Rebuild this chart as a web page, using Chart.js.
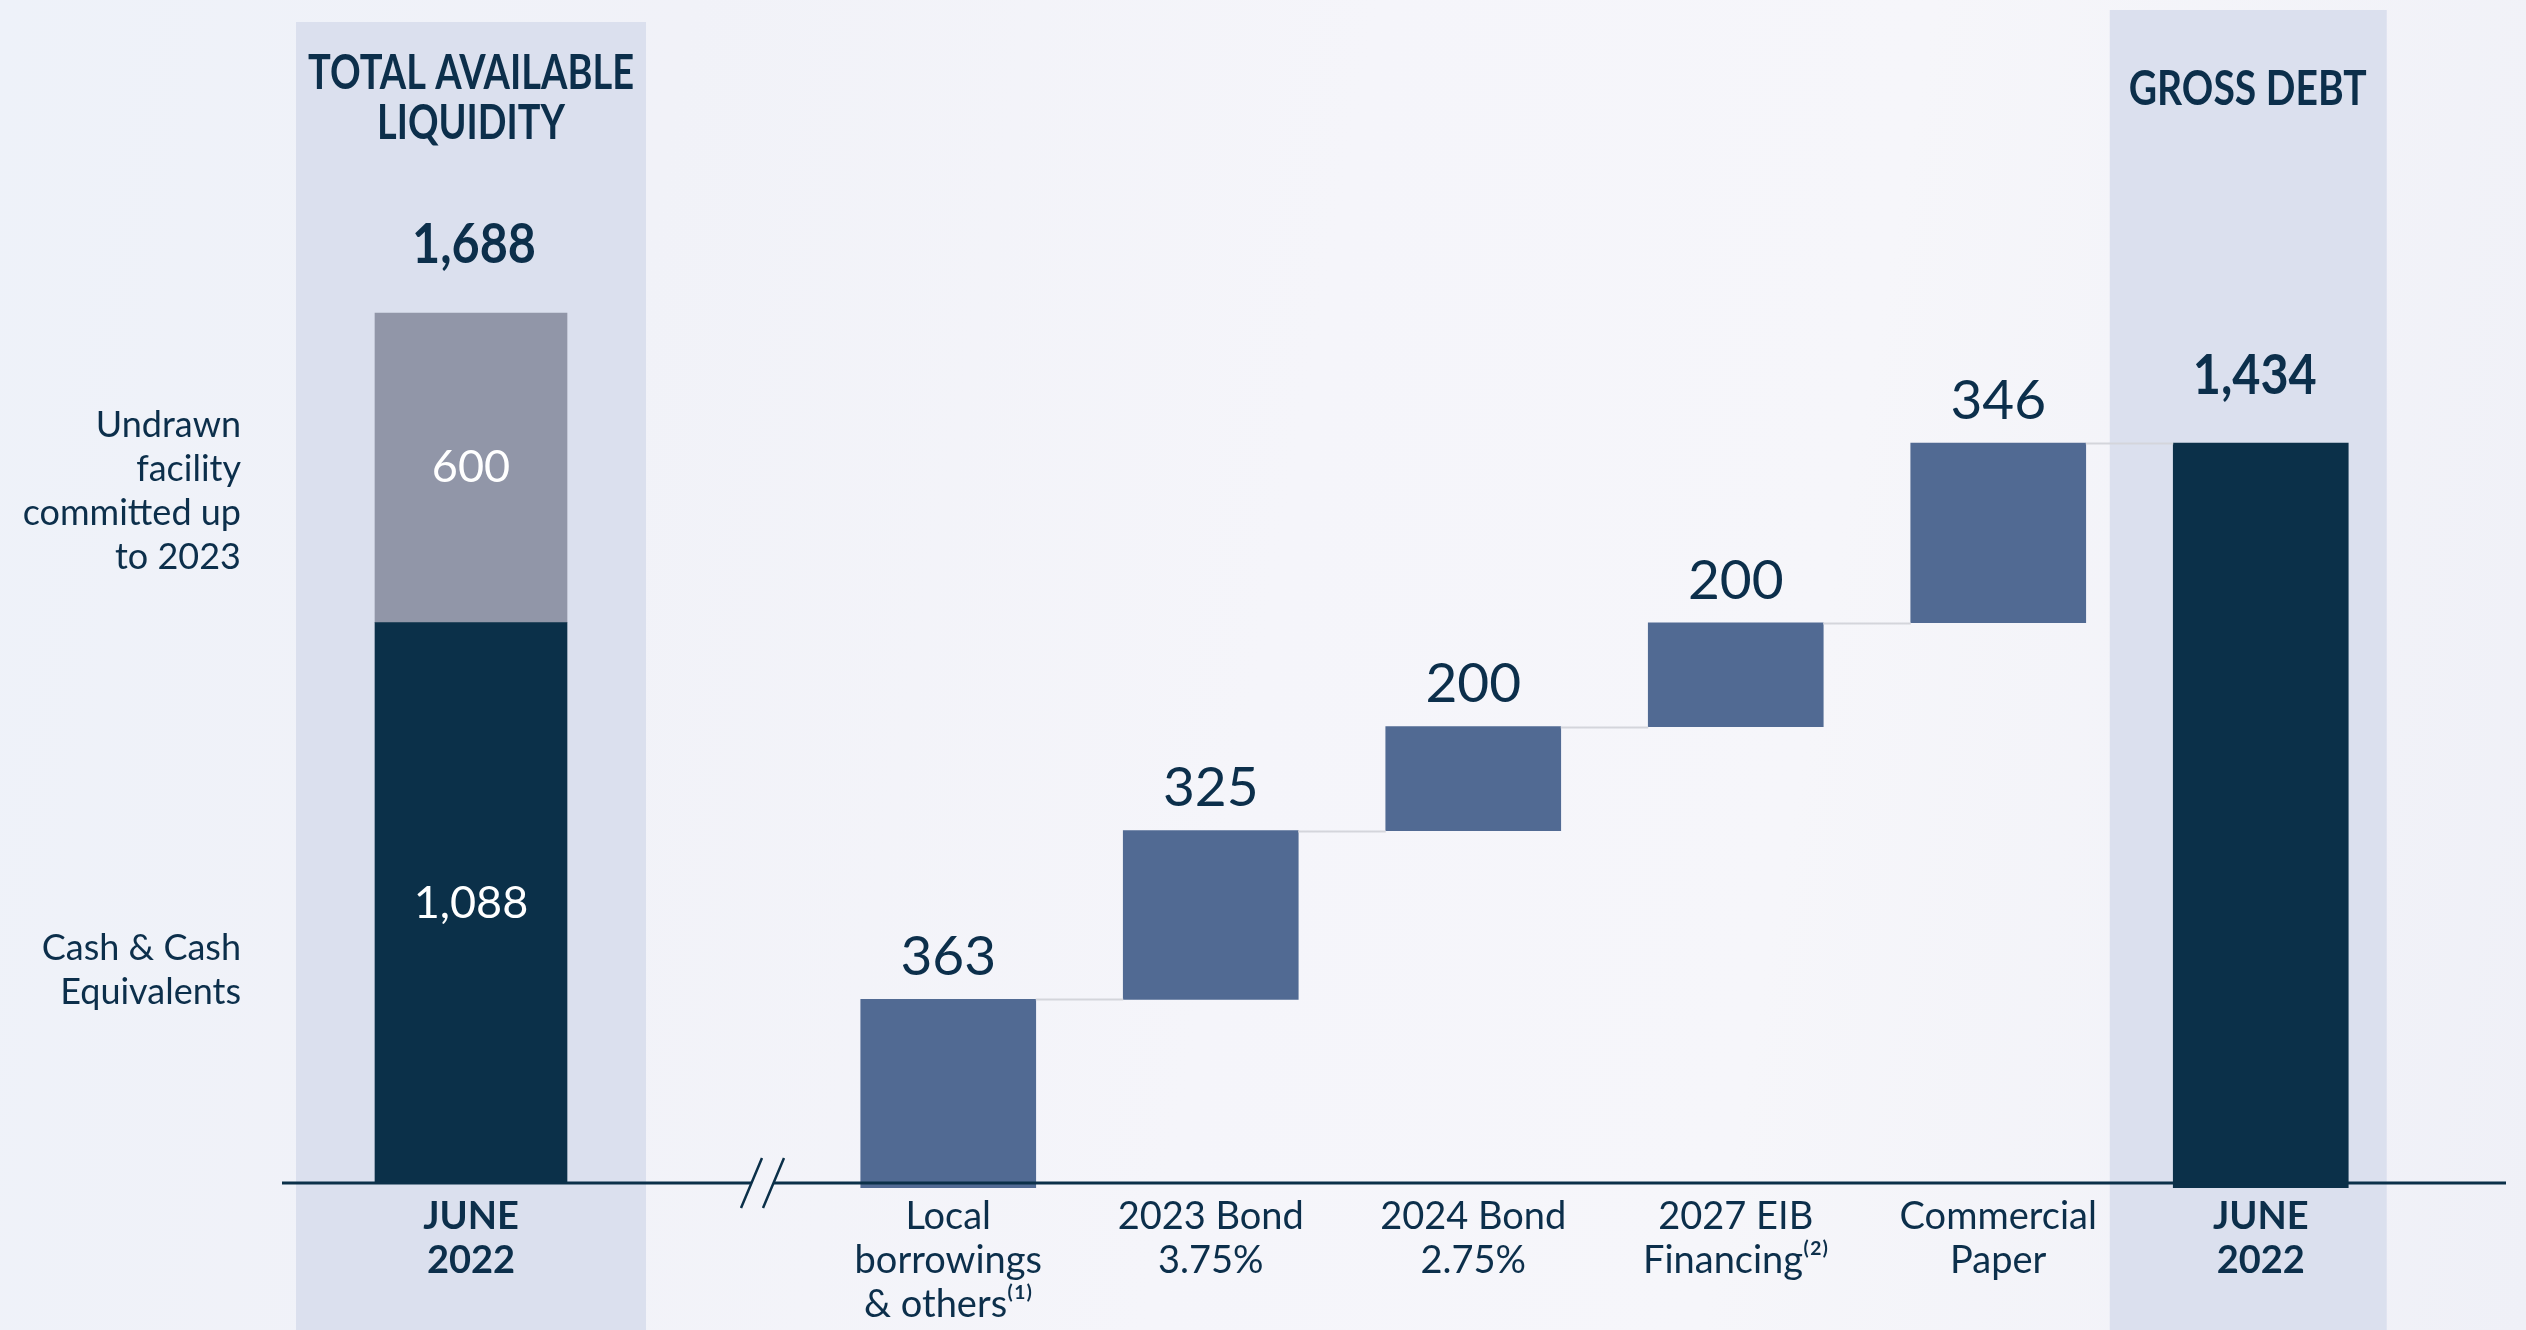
<!DOCTYPE html>
<html>
<head>
<meta charset="utf-8">
<script src="https://cdn.jsdelivr.net/npm/chart.js@4.4.1/dist/chart.umd.min.js"></script>
<style>
  html, body { margin: 0; padding: 0; width: 2526px; height: 1330px; overflow: hidden; }
  body { background: linear-gradient(100deg, #eef2f9 0%, #f1f2f8 25%, #f5f5fa 50%, #f6f6fa 70%, #eff0f7 100%); }
  #wrapB { position: absolute; left: 0; top: 0; width: 700px; height: 1330px; z-index: 0; }
  #wrapA { position: absolute; left: 0; top: 0; width: 2526px; height: 1330px; z-index: 1; }
  canvas { display: block; }
</style>
</head>
<body>
<div id="wrapB"><canvas id="liq" width="700" height="1330"></canvas></div>
<div id="wrapA"><canvas id="debt" width="2526" height="1330"></canvas></div>
<script>
// ---------------- DATA ----------------
const liquidityCategories = [["JUNE", "2022"]];
const liquiditySeriesNames = ["Cash & Cash Equivalents", "Undrawn facility committed up to 2023"];
const cashValues = [1088];
const undrawnValues = [600];
const liquidityTotal = [1688];
const liquiditySideLabels = [["Cash & Cash", "Equivalents"], ["Undrawn", "facility", "committed up", "to 2023"]];

const debtCategories = [
  ["Local", "borrowings", "& others\u207D\u00B9\u207E"],
  ["2023 Bond", "3.75%"],
  ["2024 Bond", "2.75%"],
  ["2027 EIB", "Financing\u207D\u00B2\u207E"],
  ["Commercial", "Paper"],
  ["JUNE", "2022"]
];
const debtIncrements = [363, 325, 200, 200, 346];
const grossDebtTotal = [1434];

const titleLiquidity = ["TOTAL AVAILABLE", "LIQUIDITY"];
const titleDebt = ["GROSS DEBT"];

// ---------------- STYLE ----------------
const NAVY = '#0b3049';
const TEXT = '#0c2f4b';
const BLUE = '#516a93';
const GREY = '#9196a8';
const BAND = '#dbe0ee';
const CONNECT = '#d4d5db';
const FONT = 'Lato, "Open Sans", sans-serif';
const Y_MAX = 2000;

function fmt(v) { return v.toLocaleString('en-US'); }

// floating ranges for waterfall built from the increments
const waterfall = [];
let run = 0;
debtIncrements.forEach(v => { waterfall.push([run, run + v]); run += v; });
waterfall.push([0, grossDebtTotal[0]]);
const waterfallColors = debtIncrements.map(() => BLUE).concat([NAVY]);
const waterfallLabels = debtIncrements.map(fmt).concat([fmt(grossDebtTotal[0])]);

const AXIS_Y = 1183;

// ---------------- LIQUIDITY CHART ----------------
const liqPlugin = {
  id: 'liqDecor',
  beforeDraw(chart) {
    const { ctx, chartArea } = chart;
    ctx.save();
    ctx.fillStyle = BAND;
    ctx.fillRect(chartArea.left, 22, chartArea.right - chartArea.left, chart.height - 22);
    ctx.restore();
  },
  afterDatasetsDraw(chart) {
    const { ctx, chartArea } = chart;
    const cx = (chartArea.left + chartArea.right) / 2;
    const cash = chart.getDatasetMeta(0).data[0];
    const und = chart.getDatasetMeta(1).data[0];
    ctx.save();
    ctx.textAlign = 'center';
    ctx.textBaseline = 'middle';
    ctx.fillStyle = TEXT;
    ctx.font = 'bold 47px ' + FONT;
    ctx.fillText(titleLiquidity[0], cx, 74, 326);
    ctx.fillText(titleLiquidity[1], cx, 124, 188);
    ctx.font = 'bold 56px ' + FONT;
    ctx.fillText(fmt(liquidityTotal[0]), cx + 3, und.y - 68, 124);
    ctx.fillStyle = '#ffffff';
    ctx.font = '45px ' + FONT;
    const undMid = (und.y + und.base) / 2;
    const cashMid = (cash.y + cash.base) / 2;
    ctx.fillText(fmt(undrawnValues[0]), und.x, undMid);
    ctx.fillText(fmt(cashValues[0]), cash.x, cashMid);
    ctx.fillStyle = TEXT;
    ctx.textAlign = 'right';
    ctx.font = '36px ' + FONT;
    const lh = 44;
    liquiditySideLabels[1].forEach((t, i) => ctx.fillText(t, 241, undMid - 42 + i * lh));
    liquiditySideLabels[0].forEach((t, i) => ctx.fillText(t, 241, cashMid + 45 + i * lh));
    ctx.restore();
  }
};

new Chart(document.getElementById('liq'), {
  type: 'bar',
  data: {
    labels: liquidityCategories,
    datasets: [
      { label: liquiditySeriesNames[0], data: cashValues, backgroundColor: NAVY, barThickness: 192, borderWidth: 0 },
      { label: liquiditySeriesNames[1], data: undrawnValues, backgroundColor: GREY, barThickness: 192, borderWidth: 0 }
    ]
  },
  options: {
    responsive: false,
    animation: false,
    layout: { padding: { left: 296, right: 54, top: 152, bottom: 0 } },
    plugins: { legend: { display: false }, tooltip: { enabled: false } },
    scales: {
      x: {
        stacked: true,
        grid: { display: false, drawTicks: false },
        border: { display: false },
        ticks: { padding: 11, color: TEXT, font: { family: FONT, size: 38, weight: 'bold', lineHeight: 1.15 } },
        afterFit(s) { s.height = 146; }
      },
      y: { stacked: true, display: false, min: 0, max: Y_MAX }
    }
  },
  plugins: [liqPlugin]
});

// ---------------- DEBT WATERFALL CHART ----------------
const debtPlugin = {
  id: 'debtDecor',
  beforeDraw(chart) {
    const { ctx } = chart;
    const meta = chart.getDatasetMeta(0);
    const last = meta.data[meta.data.length - 1];
    ctx.save();
    ctx.fillStyle = BAND;
    ctx.fillRect(last.x - 151, 10, 277, chart.height - 10);
    ctx.restore();
  },
  afterDatasetsDraw(chart) {
    const { ctx } = chart;
    const meta = chart.getDatasetMeta(0);
    const bars = meta.data;
    ctx.save();
    ctx.strokeStyle = CONNECT;
    ctx.lineWidth = 2;
    for (let i = 0; i < bars.length - 1; i++) {
      const a = bars[i], b = bars[i + 1];
      const y = Math.round(a.y) + 0.5;
      ctx.beginPath();
      ctx.moveTo(a.x + a.width / 2, y);
      ctx.lineTo(b.x - b.width / 2, y);
      ctx.stroke();
    }
    const ay = AXIS_Y;
    ctx.strokeStyle = NAVY;
    ctx.lineWidth = 3;
    ctx.beginPath();
    ctx.moveTo(282, ay); ctx.lineTo(751, ay);
    ctx.moveTo(773, ay); ctx.lineTo(2506, ay);
    ctx.stroke();
    ctx.lineWidth = 2.5;
    ctx.beginPath();
    ctx.moveTo(741, ay + 25); ctx.lineTo(762, ay - 25);
    ctx.moveTo(763, ay + 25); ctx.lineTo(784, ay - 25);
    ctx.stroke();
    ctx.fillStyle = TEXT;
    ctx.textAlign = 'center';
    ctx.textBaseline = 'middle';
    bars.forEach((b, i) => {
      const isTotal = i === bars.length - 1;
      ctx.font = (isTotal ? 'bold 56px ' : '55px ') + FONT;
      ctx.fillText(waterfallLabels[i], b.x - (isTotal ? 6 : 0), b.y - (isTotal ? 67 : 42), isTotal ? 124 : undefined);
    });
    const last = bars[bars.length - 1];
    ctx.font = 'bold 47px ' + FONT;
    ctx.fillText(titleDebt[0], last.x - 151 + 138, 90, 238);
    ctx.restore();
  }
};

new Chart(document.getElementById('debt'), {
  type: 'bar',
  data: {
    labels: debtCategories,
    datasets: [{
      label: 'Gross debt',
      data: waterfall,
      backgroundColor: waterfallColors,
      barThickness: 175,
      borderWidth: 0
    }]
  },
  options: {
    responsive: false,
    animation: false,
    layout: { padding: { left: 817, right: 134, top: 149, bottom: 0 } },
    plugins: { legend: { display: false }, tooltip: { enabled: false } },
    scales: {
      x: {
        grid: { display: false, drawTicks: false },
        border: { display: false },
        ticks: {
          padding: 7,
          color: TEXT,
          font: (c) => ({ family: FONT, size: 38, lineHeight: 1.15, weight: c.index === debtCategories.length - 1 ? 'bold' : 'normal' })
        },
        afterFit(s) { s.height = 142; }
      },
      y: { display: false, min: 0, max: Y_MAX }
    }
  },
  plugins: [debtPlugin]
});
</script>
</body>
</html>
